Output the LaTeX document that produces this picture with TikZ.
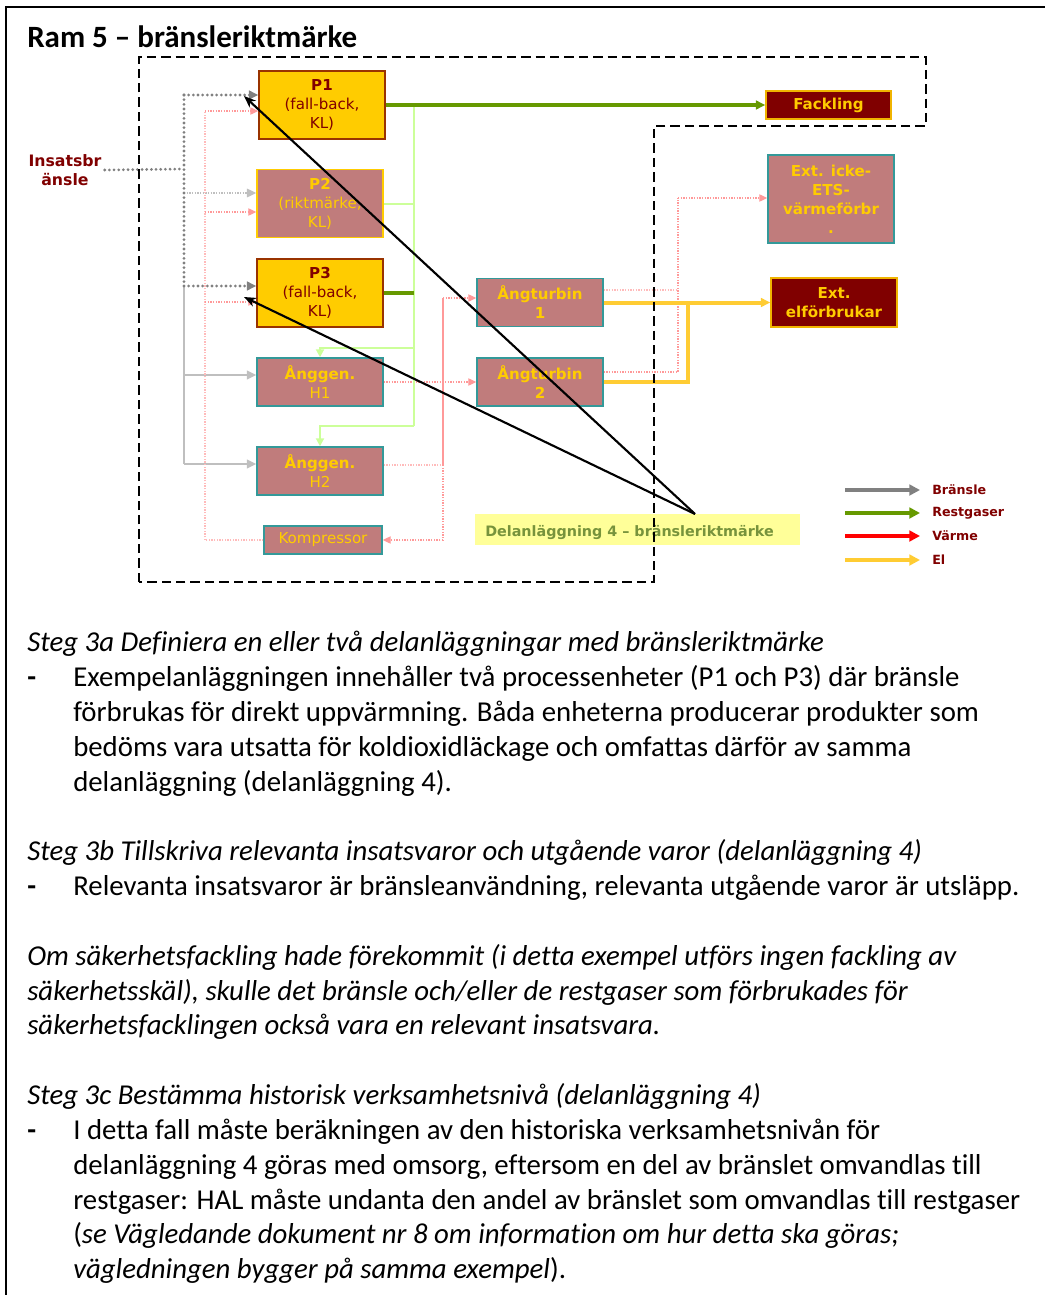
\documentclass[tikz,border=0pt]{standalone}
\usepackage{fontspec}
\setmainfont[Ligatures=NoCommon]{Carlito}
\newfontfamily\vfont{DejaVu Sans}
\usetikzlibrary{arrows.meta}

\definecolor{procY}{HTML}{FFCC00}
\definecolor{rose}{HTML}{C07C7C}
\definecolor{maroon}{HTML}{800000}
\definecolor{brickB}{HTML}{993300}
\definecolor{tealB}{HTML}{339999}
\definecolor{extB}{HTML}{F0B400}
\definecolor{gasG}{HTML}{669900}
\definecolor{ltG}{HTML}{CCFF99}
\definecolor{heatP}{HTML}{FF9999}
\definecolor{heatL}{HTML}{FFBBBB}
\definecolor{elY}{HTML}{FFCC33}
\definecolor{fuelG}{HTML}{808080}
\definecolor{ltGray}{HTML}{BFBFBF}
\definecolor{noteY}{HTML}{FFFF99}
\definecolor{noteT}{HTML}{77933C}

\tikzset{
  unitbox/.style={inner sep=0pt, align=center, line width=1.1pt,
    font=\vfont\fontsize{11.3}{14.25}\selectfont},
  hotunit/.style={unitbox, fill=procY, draw=brickB, text=maroon,
    minimum width=94.5pt, minimum height=51pt},
  refunit/.style={unitbox, fill=rose, draw=procY, text=procY,
    minimum width=94.5pt, minimum height=51pt},
  steamunit/.style={unitbox, fill=rose, draw=tealB, text=procY,
    minimum width=94.5pt, minimum height=36pt},
  extunit/.style={unitbox, fill=maroon, draw=extB, text=procY},
  tipS/.style={-{Triangle[length=6pt,width=5.5pt]}},
  fueldot/.style={draw=fuelG, line width=2.3pt, line cap=round,
    dash pattern=on 0pt off 3.5pt},
  fuelthin/.style={draw=ltGray, line width=0.9pt, dash pattern=on 1pt off 1pt},
  fuelline/.style={draw=ltGray, line width=1.3pt},
  heatdot/.style={draw=heatP, line width=0.9pt, dash pattern=on 1pt off 1pt},
  heatfaint/.style={draw=heatL, line width=0.8pt, dash pattern=on 1pt off 1pt},
  heatline/.style={draw=heatP, line width=1.1pt},
  gasline/.style={draw=gasG, line width=3pt},
  ltgline/.style={draw=ltG, line width=1.5pt},
  elline/.style={draw=elY, line width=3pt},
  pointer/.style={draw=black, line width=1.6pt, -{Stealth[length=9pt,width=7pt]}},
  bound/.style={draw=black, line width=2.1pt, dash pattern=on 7pt off 3.8pt},
  legarrow/.style={line width=3pt, -{Triangle[length=8pt,width=8pt]}},
  leglabel/.style={anchor=west, inner sep=0pt, text=maroon,
    font=\vfont\bfseries\fontsize{9.5}{11}\selectfont},
  bodytxt/.style={anchor=base west, inner sep=0pt,
    font=\fontsize{21.6}{26}\selectfont},
}

\begin{document}
\begin{tikzpicture}[x=0.75pt,y=-0.75pt]
\useasboundingbox (0,0) rectangle (1045,1295);
\begin{scope}
  \clip (0,0) rectangle (1045,1295);
  \draw[line width=1.5pt] (6,1300) -- (6,7) -- (1050,7);
\end{scope}

% heading
\node[anchor=base west, inner sep=0pt, font=\bfseries\fontsize{23.25}{28}\selectfont]
  (title) at (27,48) {Ram 5 – bränsleriktmärke};

% sub-installation label
\node[fill=noteY, minimum width=243.75pt, minimum height=23.25pt, inner sep=0pt]
  (dl) at (637.5,529.5) {};
\node[anchor=west, inner sep=0pt, text=noteT,
  font=\vfont\bfseries\fontsize{10.75}{12}\selectfont]
  (dltxt) at (485,532) {Delanläggning 4 – bränsleriktmärke};

% fuel input label
\node[align=center, inner sep=0pt, text=maroon,
  font=\vfont\bfseries\fontsize{11.8}{14.25}\selectfont]
  (ins) at (65,170) {Insatsbr\\änsle};

% process units
\node[hotunit] (P1) at (322,105) {\textbf{P1}\\(fall-back,\\KL)};
\node[refunit] (P2) at (320,203.5) {\textbf{P2}\\(riktmärke,\\KL)};
\node[hotunit] (P3) at (320,293) {\textbf{P3}\\(fall-back,\\KL)};
\node[steamunit] (H1) at (320,382) {\textbf{Ånggen.}\\H1};
\node[steamunit] (H2) at (320,471) {\textbf{Ånggen.}\\H2};
\node[steamunit, minimum width=88.5pt, minimum height=21pt] (K) at (323,540) {Kompressor};
\node[steamunit, font=\vfont\bfseries\fontsize{11.3}{14.25}\selectfont]
  (T1) at (540,302.5) {Ångturbin\\1};
\node[steamunit, font=\vfont\bfseries\fontsize{11.3}{14.25}\selectfont]
  (T2) at (540,382) {Ångturbin\\2};
\node[extunit, minimum width=93.75pt, minimum height=21pt,
  font=\vfont\bfseries\fontsize{11.3}{14.25}\selectfont]
  (F) at (828.5,105) {Fackling};
\node[steamunit, minimum height=66pt,
  font=\vfont\bfseries\fontsize{11.3}{14.25}\selectfont]
  (XH) at (831,199) {Ext. icke-\\ETS-\\värmeförbr\\.};
\node[extunit, minimum width=94.5pt, minimum height=36.75pt,
  font=\vfont\bfseries\fontsize{11.3}{14.25}\selectfont]
  (XE) at (834,302.5) {Ext.\\elförbrukar};

% junction points
\coordinate (fA)  at (184,169);
\coordinate (fT)  at (184,95);
\coordinate (fP2) at (184,193);
\coordinate (fP3) at (184,286);
\coordinate (fH1) at (184,375);
\coordinate (fH2) at (184,464);
\coordinate (hL1) at (205,111);
\coordinate (hL2) at (205,212);
\coordinate (hL3) at (205,302);
\coordinate (hLb) at (205,540);
\coordinate (hM1) at (443,298);
\coordinate (hM2) at (443,465);
\coordinate (hMb) at (443,540);
\coordinate (hR1) at (678,290);
\coordinate (hR2) at (678,372);
\coordinate (hRt) at (678,198);
\coordinate (gT)  at (414,105);
\coordinate (gM)  at (414,348);
\coordinate (gB)  at (414,426);
\coordinate (eJ)  at (688,302.5);
\coordinate (dlp) at (695,514);
\coordinate (p1t) at (244,96);
\coordinate (p3t) at (244,297);

% fuel
\draw[fuelline] (fP3) -- (fH2);
\draw[fuelline, -{Triangle[length=7pt,width=6.5pt]}, color=ltGray] (fH1) -- (fH1 -| H1.west);
\draw[fuelline, -{Triangle[length=7pt,width=6.5pt]}, color=ltGray] (fH2) -- (fH2 -| H2.west);
\draw[fuelthin, -{Triangle[length=7pt,width=6.5pt]}, color=ltGray] (fP2) -- (fP2 -| P2.west);
\draw[fueldot] (ins.east) ++(3,0) -- (fA);
\draw[fueldot] (fT) -- (fP3);
\draw[fueldot, -{Triangle[length=7pt,width=6.5pt]}, color=fuelG] (fT) -- (fT -| P1.west);
\draw[fueldot, -{Triangle[length=7pt,width=6.5pt]}, color=fuelG] (fP3) -- (fP3 -| P3.west);

% heat
\draw[heatfaint] (hLb) -- (hL1);
\draw[heatfaint] (K.west) -- (hLb);
\draw[heatdot, tipS, color=heatP] (hL1) -- (hL1 -| P1.west);
\draw[heatdot, tipS, color=heatP] (hL2) -- (hL2 -| P2.west);
\draw[heatdot, tipS, color=heatP] (hL3) -- (hL3 -| P3.west);
\draw[heatdot, tipS, color=heatP] (H1.east) -- (T2.west);
\draw[heatfaint] (hM2 -| H2.east) -- (hM2);
\draw[heatline] (hM2) -- (hM1);
\draw[heatdot, tipS, color=heatP] (hM1) -- (hM1 -| T1.west);
\draw[heatdot] (hM2) -- (hMb);
\draw[heatdot, tipS, color=heatP] (hMb) -- (K.east);
\draw[heatfaint] (hR1 -| T1.east) -- (hR1);
\draw[heatdot] (hR2 -| T2.east) -- (hR2) -- (hRt);
\draw[heatdot, tipS, color=heatP] (hRt) -- (hRt -| XH.west);

% residual gases
\draw[ltgline] (gT) -- (gB);
\draw[ltgline] (P2.east) -- (P2.east -| gT);
\draw[ltgline, -{Triangle[length=6pt,width=6pt]}, color=ltG] (gM) -| (H1.north);
\draw[ltgline, -{Triangle[length=6pt,width=6pt]}, color=ltG] (gB) -| (H2.north);
\draw[gasline, -{Triangle[length=7pt,width=6.5pt]}, color=gasG] (P1.east) -- (F.west);
\draw[gasline] (P3.east) -- (P3.east -| gT);

% electricity
\draw[elline, -{Triangle[length=7pt,width=6.5pt]}, color=elY] (T1.east) -- (XE.west);
\draw[elline] (T2.east) -| (eJ);

% sub-installation boundary
\draw[bound] (139,582) -- (139,57) -- (926,57) -- (926,126) -- (654,126) -- (654,582) -- cycle;

% pointers from the label
\draw[pointer] (dlp) -- (p1t);
\draw[pointer] (dlp) -- (p3t);

% legend
\coordinate (lg1) at (845,490);
\coordinate (lg2) at (845,513);
\coordinate (lg3) at (845,536);
\coordinate (lg4) at (845,560);
\node[leglabel] (lb1) at (932,490) {Bränsle};
\node[leglabel] (lb2) at (932,513) {Restgaser};
\node[leglabel] (lb3) at (932,536) {Värme};
\node[leglabel] (lb4) at (932,560) {El};
\draw[legarrow, fuelG] (lg1) -- ++(75,0);
\draw[legarrow, gasG] (lg2) -- ++(75,0);
\draw[legarrow, red] (lg3) -- ++(75,0);
\draw[legarrow, elY] (lg4) -- ++(75,0);

% explanatory text
\node[bodytxt] (s3a) at (27,651) {\itshape Steg 3a Definiera en eller två delanläggningar med bränsleriktmärke};
\node[bodytxt] (d1) at (27,686) {\textbf{-}};
\node[bodytxt] (a1) at (73,686) {Exempelanläggningen innehåller två processenheter (P1 och P3) där bränsle};
\node[bodytxt] (a2) at (73,721) {förbrukas för direkt uppvärmning. Båda enheterna producerar produkter som};
\node[bodytxt] (a3) at (73,756) {bedöms vara utsatta för koldioxidläckage och omfattas därför av samma};
\node[bodytxt] (a4) at (73,791) {delanläggning (delanläggning 4).};
\node[bodytxt] (s3b) at (27,860) {\itshape Steg 3b Tillskriva relevanta insatsvaror och utgående varor (delanläggning 4)};
\node[bodytxt] (d2) at (27,895) {\textbf{-}};
\node[bodytxt] (b1) at (73,895) {Relevanta insatsvaror är bränsleanvändning, relevanta utgående varor är utsläpp.};
\node[bodytxt] (c1) at (27,965) {\itshape Om säkerhetsfackling hade förekommit (i detta exempel utförs ingen fackling av};
\node[bodytxt] (c2) at (27,1000) {\itshape säkerhetsskäl), skulle det bränsle och/eller de restgaser som förbrukades för};
\node[bodytxt] (c3) at (27,1034) {\itshape säkerhetsfacklingen också vara en relevant insatsvara.};
\node[bodytxt] (s3c) at (27,1104) {\itshape Steg 3c Bestämma historisk verksamhetsnivå (delanläggning 4)};
\node[bodytxt] (d3) at (27,1139) {\textbf{-}};
\node[bodytxt] (e1) at (73,1139) {I detta fall måste beräkningen av den historiska verksamhetsnivån för};
\node[bodytxt] (e2) at (73,1174) {delanläggning 4 göras med omsorg, eftersom en del av bränslet omvandlas till};
\node[bodytxt] (e3) at (73,1209) {restgaser: HAL måste undanta den andel av bränslet som omvandlas till restgaser};
\node[bodytxt] (e4) at (73,1243) {(\textit{se Vägledande dokument nr 8 om information om hur detta ska göras;}};
\node[bodytxt] (e5) at (73,1278) {\textit{vägledningen bygger på samma exempel}).};
\end{tikzpicture}
\end{document}
